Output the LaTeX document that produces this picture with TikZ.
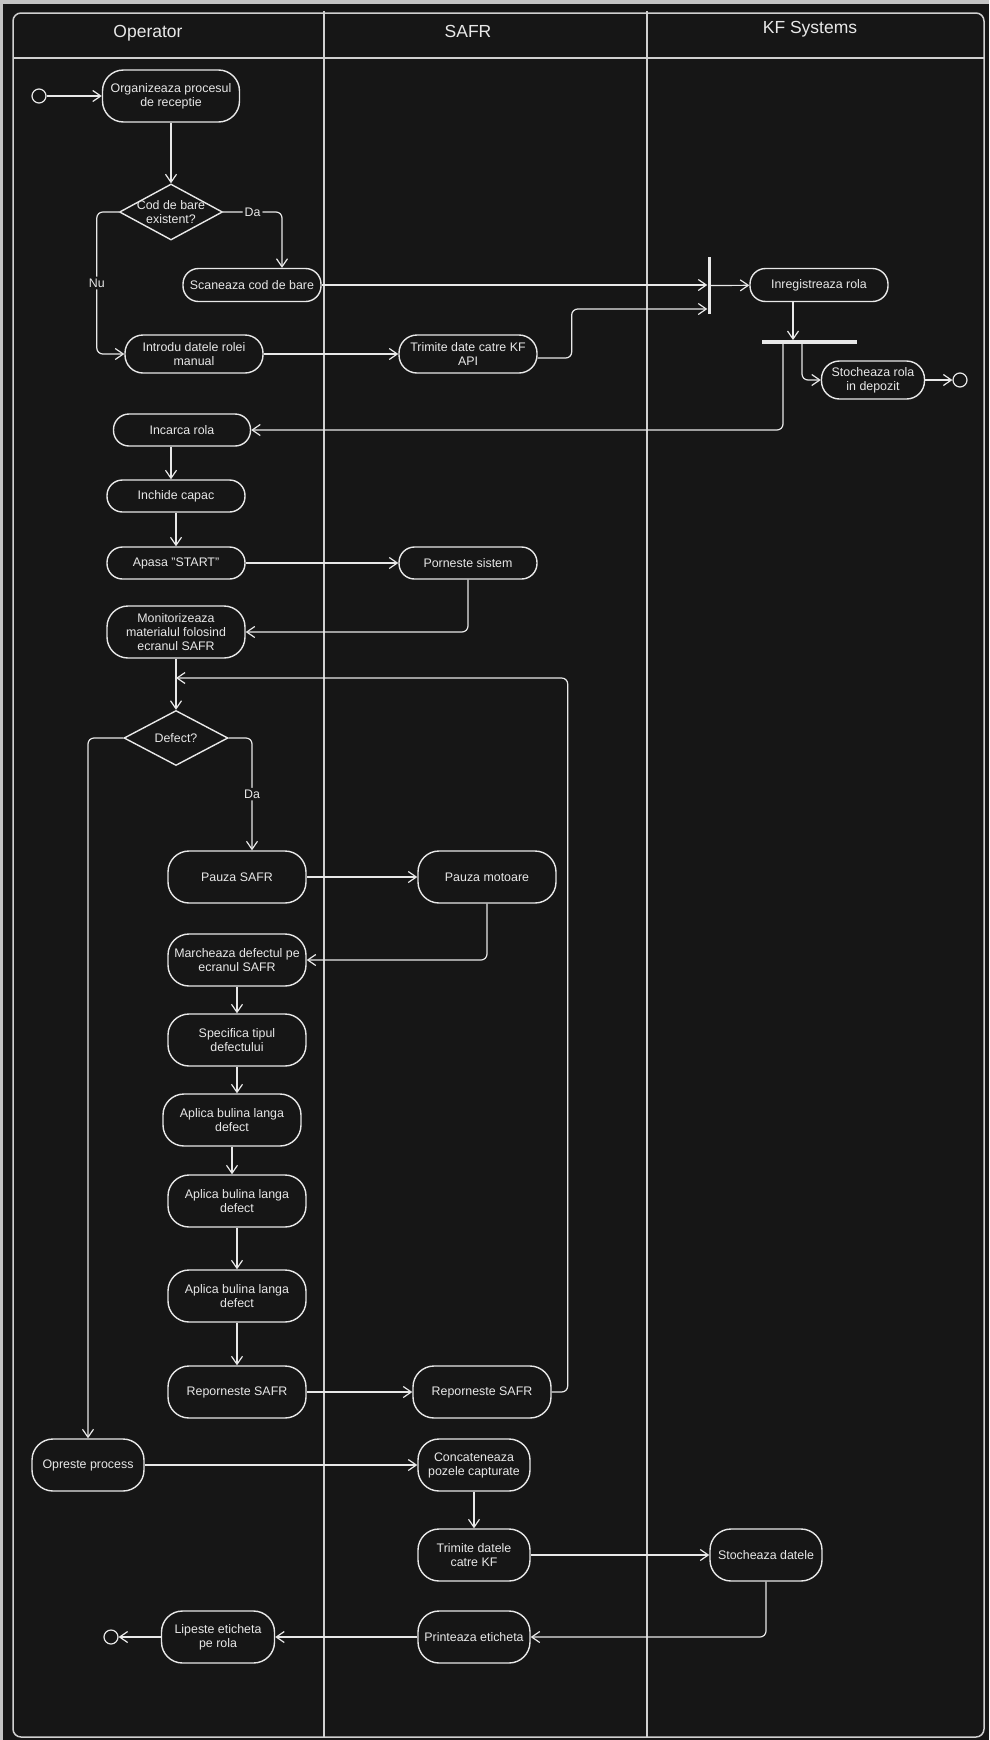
\documentclass[tikz,border=0pt]{standalone}
\usepackage{fontspec}
\setmainfont{Liberation Sans}
\usetikzlibrary{arrows.meta,shapes.geometric}
\definecolor{bgdark}{HTML}{161616}
\definecolor{edgegray}{HTML}{C4C4C4}
\definecolor{ink}{HTML}{E8E8E8}
\definecolor{laneline}{HTML}{D0D0D0}
\newcommand{\actfont}{\fontsize{12.4}{14}\selectfont}
\tikzset{
  act/.style={draw=ink, line width=1.4pt, rounded corners=21pt, text=ink, font=\actfont,
    align=center, inner sep=0pt, minimum width=138pt, minimum height=52pt},
  slim/.style={rounded corners=15.5pt, minimum height=#1},
  slim/.default=32pt,
  mid/.style={rounded corners=18pt, minimum height=38pt},
  decision/.style={draw=ink, line width=1.4pt, diamond, inner sep=0pt,
    minimum width=104pt, minimum height=56pt},
  bar/.style={fill=ink, inner sep=0pt},
  endpt/.style={draw=ink, line width=1.2pt, circle, inner sep=0pt, minimum size=14pt},
  flow/.style={draw=ink, line width=1.2pt, ->, rounded corners=6pt},
  guard/.style={fill=bgdark, text=ink, font=\actfont, inner sep=2pt},
  lane/.style={draw=laneline, line width=1.5pt},
  title/.style={text=ink, font=\fontsize{17.5}{20}\selectfont},
  dtext/.style={text=ink, font=\actfont, align=center}
}
\begin{document}
\begin{tikzpicture}[x=1pt, y=-1pt, >={Straight Barb[length=8pt,width=11pt]}]
    \useasboundingbox (0,0) rectangle (989,1740);
    \fill[edgegray] (0,0) rectangle (989,1740);
    \fill[bgdark] (3,4) rectangle (989,1740);

    % swimlanes
    \draw[lane, rounded corners=8pt] (13,13) rectangle (984,1737);
    \draw[lane] (13,58) -- (984,58);
    \draw[lane] (324,11) -- (324,1738);
    \draw[lane] (647,11) -- (647,1738);
    \node[title] (optitle) at (148,33) {Operator};
    \node[title] (safrtitle) at (468,31) {SAFR};
    \node[title] (kftitle) at (810,29) {KF Systems};

    % reception
    \node[endpt] (start) at (39,96) {};
    \node[act, minimum width=137pt] (org) at (171,96) {Organizeaza procesul\\de receptie};
    \node[decision, minimum width=103pt,
          label={[dtext]center:{Cod de bare\\existent?}}] (barcode) at (171,212) {};
    \node[act, slim=33pt] (scan) at (252,285) {Scaneaza cod de bare};
    \node[act, mid] (manual) at (194,354) {Introdu datele rolei\\manual};
    \node[act, mid] (kfapi) at (468,354) {Trimite date catre KF\\API};
    \node[bar, minimum width=3pt, minimum height=57pt] (fork) at (709,285.5) {};
    \node[act, slim=33pt] (reg) at (819,285) {Inregistreaza rola};
    \node[bar, minimum width=95pt, minimum height=3.5pt] (join) at (809.5,342) {};
    \node[act, mid, minimum width=103pt] (store) at (873,380) {Stocheaza rola\\in depozit};
    \node[endpt] (end1) at (960,380) {};

    % loading and monitoring
    \node[act, slim, minimum width=137pt] (load) at (182,430) {Incarca rola};
    \node[act, slim] (close) at (176,496) {Inchide capac};
    \node[act, slim] (press) at (176,563) {Apasa "START"};
    \node[act, slim] (boot) at (468,563) {Porneste sistem};
    \node[act] (monitor) at (176,632) {Monitorizeaza\\materialul folosind\\ecranul SAFR};
    \coordinate (merge) at (176,678);
    \node[decision, minimum height=55pt, label={[dtext]center:Defect?}] (defect) at (176,738) {};

    % defect handling
    \node[act] (pause) at (237,877) {Pauza SAFR};
    \node[act] (motors) at (487,877) {Pauza motoare};
    \node[act] (mark) at (237,960) {Marcheaza defectul pe\\ecranul SAFR};
    \node[act] (spec) at (237,1040) {Specifica tipul\\defectului};
    \node[act] (dot1) at (232,1120) {Aplica bulina langa\\defect};
    \node[act] (dot2) at (237,1201) {Aplica bulina langa\\defect};
    \node[act] (dot3) at (237,1296) {Aplica bulina langa\\defect};
    \node[act] (restart) at (237,1392) {Reporneste SAFR};
    \node[act] (restart2) at (482,1392) {Reporneste SAFR};

    % closing
    \node[act, minimum width=112pt] (stop) at (88,1465) {Opreste process};
    \node[act, minimum width=112pt] (concat) at (474,1465) {Concateneaza\\pozele capturate};
    \node[act, minimum width=112pt] (senddata) at (474,1555) {Trimite datele\\catre KF};
    \node[act, minimum width=112pt] (storedata) at (766,1555) {Stocheaza datele};
    \node[act, minimum width=112pt] (print) at (474,1637) {Printeaza eticheta};
    \node[act, minimum width=113pt] (stick) at (218,1637) {Lipeste eticheta\\pe rola};
    \node[endpt] (end2) at (111,1637) {};

    % flows
    \draw[flow] (start) -- (org);
    \draw[flow] (org) -- (barcode);
    \draw[flow] (barcode.east) -| node[guard, pos=0.25] {Da} ([xshift=30pt]scan.north);
    \draw[flow] (barcode.west) -- ++(-22,0) |- node[guard, pos=0.25] {Nu} (manual.west);
    \draw[flow] (scan) -- (scan -| fork.west);
    \draw[flow] (manual) -- (kfapi);
    \draw[flow] ([yshift=-4pt]kfapi.east) -- ++(34,0) |- ([yshift=-23.5pt]fork.west);
    \draw[flow] (fork) -- (reg);
    \draw[flow] ([xshift=-26pt]reg.south) -- ([xshift=-16.5pt]join.north);
    \draw[flow] ([xshift=-7.5pt]join.south) |- (store.west);
    \draw[flow] (store) -- (end1);
    \draw[flow] ([xshift=-26.5pt]join.south) |- (load.east);
    \draw[flow] ([xshift=-11pt]load.south) -- ([xshift=-5pt]close.north);
    \draw[flow] (close) -- (press);
    \draw[flow] (press) -- (boot);
    \draw[flow] (boot.south) |- (monitor.east);
    \draw[flow] (monitor) -- (defect);
    \draw[flow] (defect.east) -| node[guard, pos=0.75] {Da} ([xshift=15pt]pause.north);
    \draw[flow] (defect.west) -| (stop.north);
    \draw[flow] (pause) -- (motors);
    \draw[flow] (motors.south) |- (mark.east);
    \draw[flow] (mark) -- (spec);
    \draw[flow] (spec.south) -- ([xshift=5pt]dot1.north);
    \draw[flow] (dot1.south) -- ([xshift=-5pt]dot2.north);
    \draw[flow] (dot2) -- (dot3);
    \draw[flow] (dot3) -- (restart);
    \draw[flow] (restart) -- (restart2);
    \draw[flow] (restart2.east) -- ++(16,0) |- (merge);
    \draw[flow] (stop) -- (concat);
    \draw[flow] (concat) -- (senddata);
    \draw[flow] (senddata) -- (storedata);
    \draw[flow] (storedata.south) |- (print.east);
    \draw[flow] (print) -- (stick);
    \draw[flow] (stick) -- (end2);
\end{tikzpicture}
\end{document}
